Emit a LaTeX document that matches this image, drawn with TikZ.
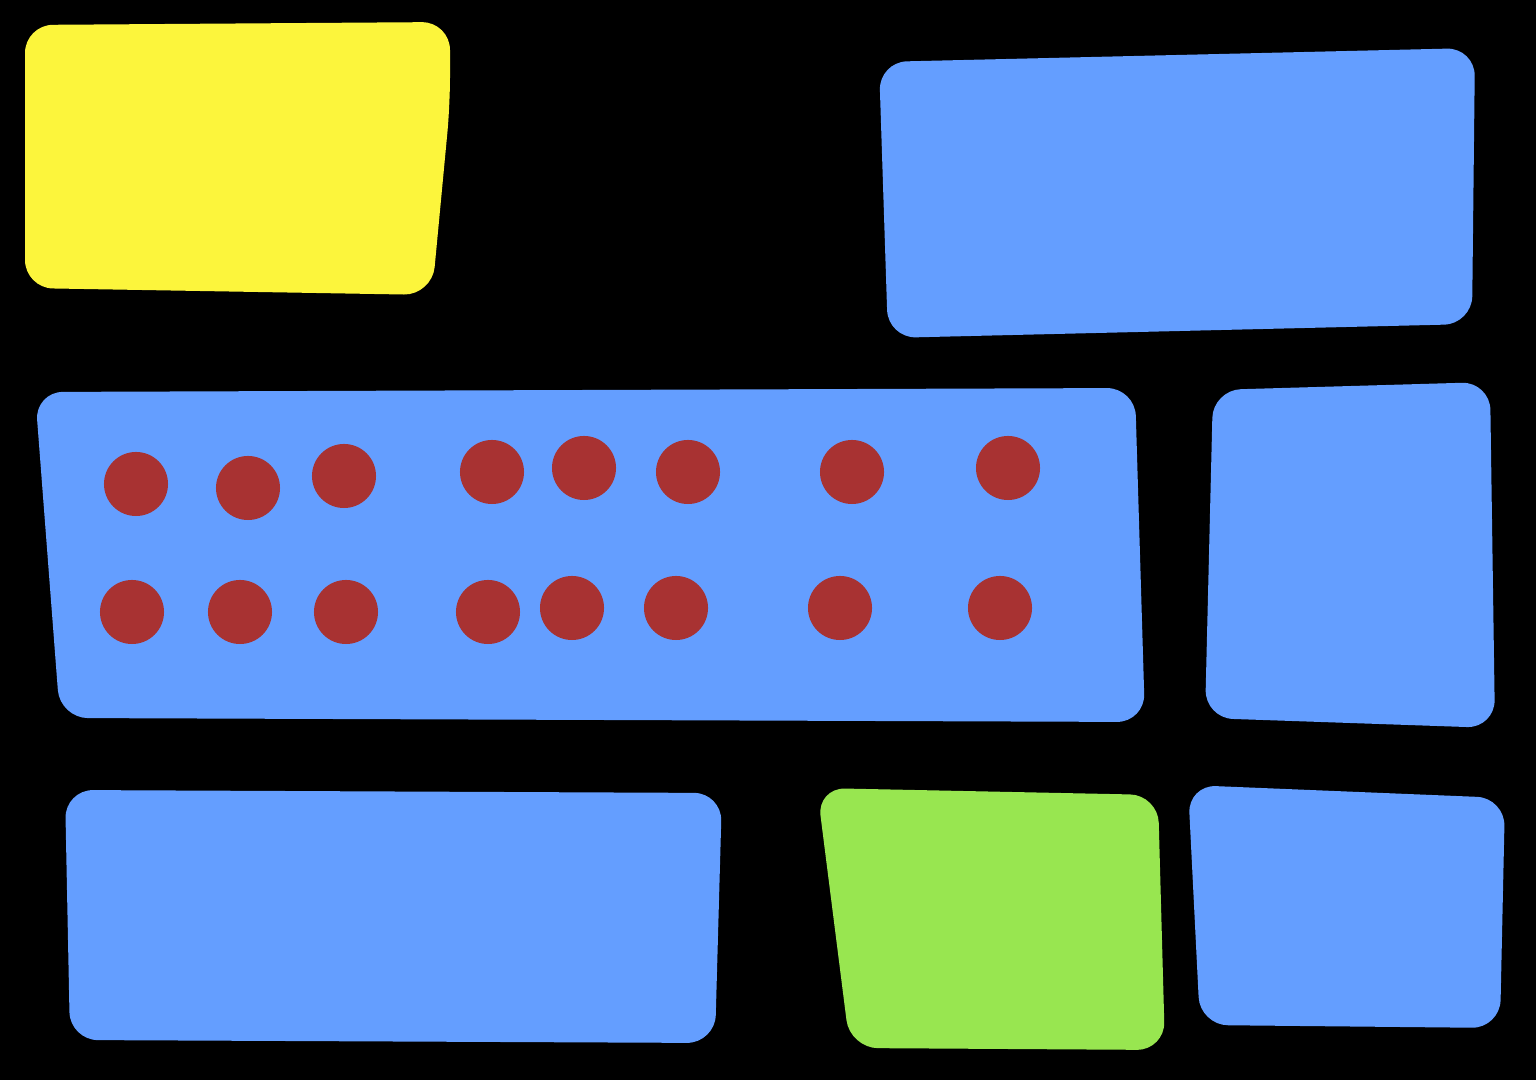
\documentclass[tikz,border=0pt]{standalone}
\definecolor{patchyellow}{RGB}{252,245,60}
\definecolor{patchblue}{RGB}{100,158,255}
\definecolor{patchgreen}{RGB}{152,230,80}
\definecolor{dotred}{RGB}{168,50,50}
\begin{document}
\begin{tikzpicture}[x=0.01cm,y=-0.01cm,
	patch/.style={rounded corners=0.28cm},
	dot/.style={circle,fill=dotred,inner sep=0pt,minimum size=0.64cm}]
	\fill[black] (0,0) rectangle (1536,1080);
	\useasboundingbox (0,0) rectangle (1536,1080);
	\fill[patchyellow,patch] (25,25)--(450,22)--(450,105)--(432,295)--(25,288)--cycle;
	\fill[patchblue,patch] (879,62)--(1475,48)--(1472,324)--(888,338)--cycle;
	\fill[patchblue,patch] (35,392)--(1135,388)--(1145,722)--(60,718)--cycle;
	\fill[patchblue,patch] (1213,390)--(1490,382)--(1495,728)--(1205,718)--cycle;
	\fill[patchblue,patch] (65,790)--(722,793)--(715,1043)--(70,1040)--cycle;
	\fill[patchgreen,patch] (817,788)--(1158,795)--(1165,1050)--(850,1048)--cycle;
	\fill[patchblue,patch] (1188,785)--(1505,798)--(1500,1028)--(1200,1025)--cycle;
	\node (d1) at (136,484) [dot] {};
	\node (d2) at (248,488) [dot] {};
	\node (d3) at (344,476) [dot] {};
	\node (d4) at (492,472) [dot] {};
	\node (d5) at (584,468) [dot] {};
	\node (d6) at (688,472) [dot] {};
	\node (d7) at (852,472) [dot] {};
	\node (d8) at (1008,468) [dot] {};
	\node (e1) at (132,612) [dot] {};
	\node (e2) at (240,612) [dot] {};
	\node (e3) at (346,612) [dot] {};
	\node (e4) at (488,612) [dot] {};
	\node (e5) at (572,608) [dot] {};
	\node (e6) at (676,608) [dot] {};
	\node (e7) at (840,608) [dot] {};
	\node (e8) at (1000,608) [dot] {};
\end{tikzpicture}
\end{document}
